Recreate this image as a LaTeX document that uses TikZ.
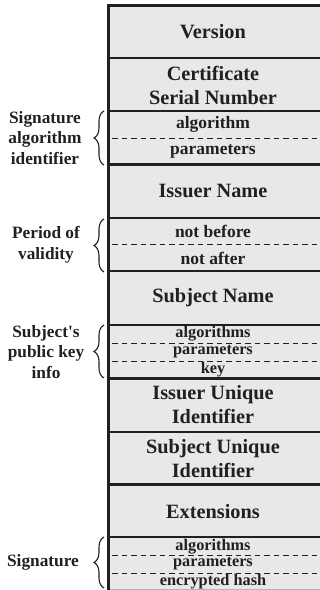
\documentclass[tikz,border=0pt]{standalone}
\usepackage{fontspec}
\setmainfont{Liberation Serif}
\usetikzlibrary{decorations.pathreplacing}
\definecolor{cellfill}{HTML}{E8E8E8}
\definecolor{ink}{HTML}{231F20}
\begin{document}
\begin{tikzpicture}[x=1pt,y=-1pt,
  big/.style={font=\fontsize{20.3}{24}\selectfont\bfseries, align=center, text=ink, inner sep=0pt},
  small/.style={font=\fontsize{17.5}{20}\selectfont\bfseries, text=ink, inner sep=0pt},
  tiny/.style={font=\fontsize{16.3}{18}\selectfont\bfseries, text=ink, inner sep=0pt},
  side/.style={font=\fontsize{17.3}{20.5}\selectfont\bfseries, align=center, text=ink, inner sep=0pt},
  rule/.style={draw=ink, line width=2.6pt},
  dashrule/.style={draw=ink, line width=1pt, dash pattern=on 5.5pt off 4pt},
  bracestyle/.style={draw=ink, line width=1.1pt, decorate, decoration={brace, amplitude=10pt}}
]
\useasboundingbox (0,0) rectangle (320,590);
% table body
\fill[cellfill] (108.5,5.5) rectangle (322,592);
\foreach \y in {5.5,58,111,164.5,218,271,325,378.5,432,484.5,537}
  \draw[rule] (107.2,\y) -- (322,\y);
\draw[rule] (108.5,4.2) -- (108.5,592);
\foreach \y in {138,244.5,343,361,555,573}
  \draw[dashrule] (112,\y) -- (322,\y);
\draw[gray!60, line width=1pt] (109.8,589.5) -- (322,589.5);
% cell texts
\node[big] (version) at (213,31.5) {Version};
\node[big] (serial) at (213,85) {Certificate\\Serial Number};
\node[small] (sigalg) at (213,124.5) {algorithm};
\node[small] (sigpar) at (213,151) {parameters};
\node[big] (issuer) at (213,191) {Issuer Name};
\node[small] (nbefore) at (213,231.5) {not before};
\node[small] (nafter) at (213,258) {not after};
\node[big] (subject) at (213,298) {Subject Name};
\node[tiny] (pkalg) at (213,334) {algorithms};
\node[tiny] (pkpar) at (213,352) {parameters};
\node[tiny] (pkkey) at (213,369.5) {key};
\node[big] (issuid) at (213,405) {Issuer Unique\\Identifier};
\node[big] (subjuid) at (213,458.5) {Subject Unique\\Identifier};
\node[big] (ext) at (213,512) {Extensions};
\node[tiny] (sgalg) at (213,546.5) {algorithms};
\node[tiny] (sgpar) at (213,564) {parameters};
\node[tiny] (sghash) at (213,581.5) {encrypted hash};
% side labels and braces
\coordinate (b1t) at (104,111);  \coordinate (b1b) at (104,165);
\coordinate (b2t) at (104,219);  \coordinate (b2b) at (104,272);
\coordinate (b3t) at (104,325);  \coordinate (b3b) at (104,378);
\coordinate (b4t) at (104,537);  \coordinate (b4b) at (104,588);
\draw[bracestyle] (b1b) -- (b1t);
\draw[bracestyle] (b2b) -- (b2t);
\draw[bracestyle] (b3b) -- (b3t);
\draw[bracestyle] (b4b) -- (b4t);
\node[side] (lsigalg) at (45,138) {Signature\\algorithm\\identifier};
\node[side] (lperiod) at (46,245) {Period of\\validity};
\node[side] (lpubkey) at (46,352) {Subject\textquotesingle s\\public key\\info};
\node[side] (lsig) at (43,562) {Signature};
\end{tikzpicture}
\end{document}
